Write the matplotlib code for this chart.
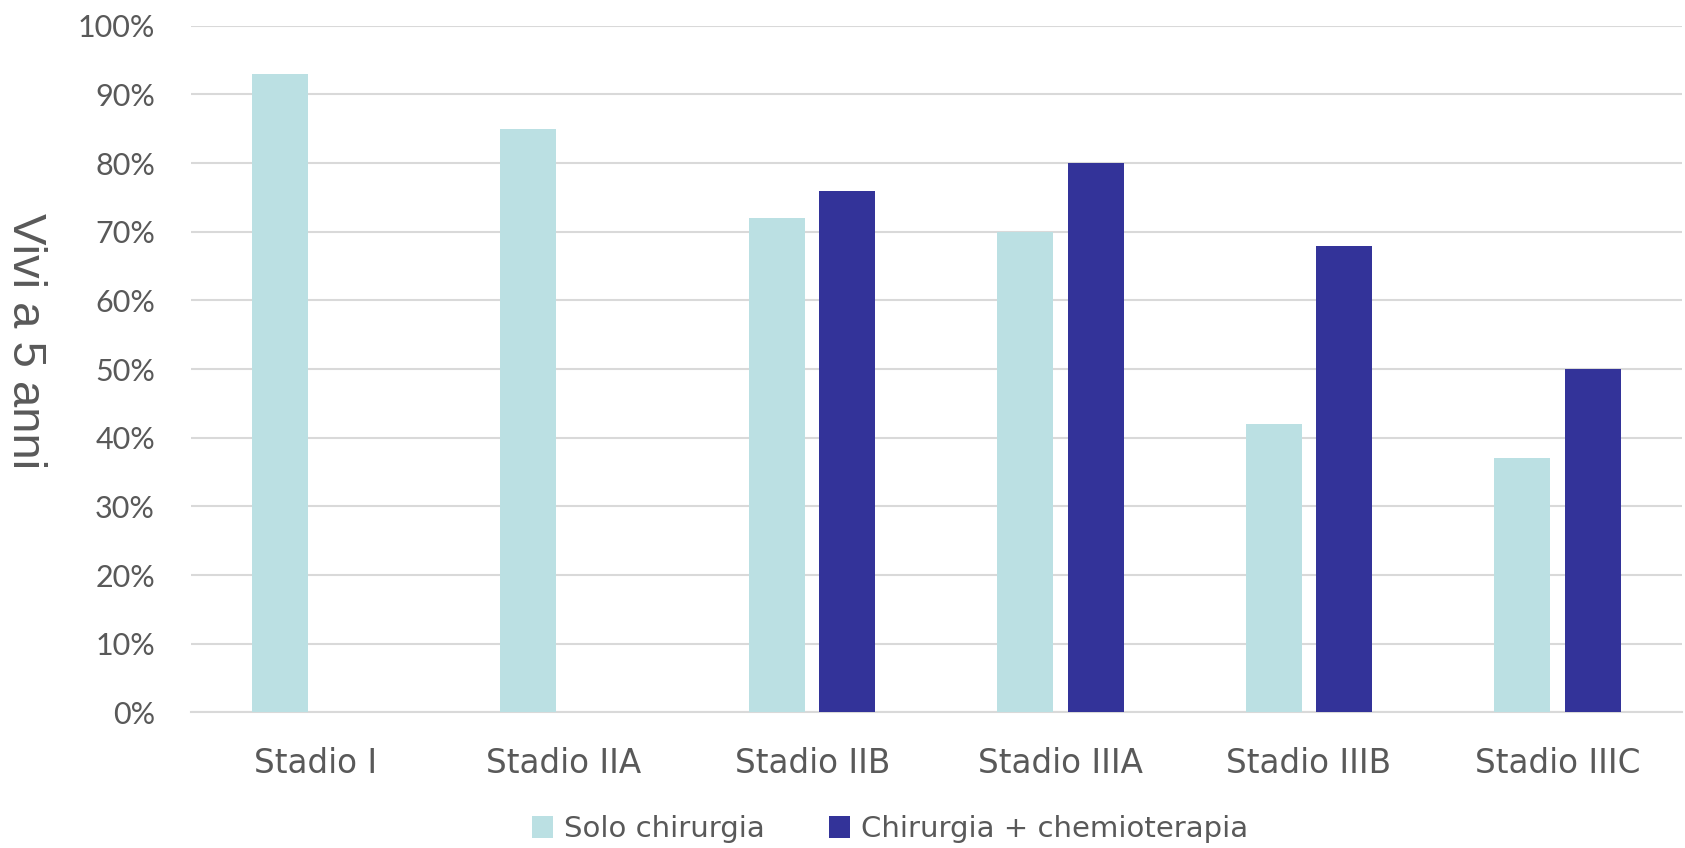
import numpy as np
import matplotlib
matplotlib.use('Agg')
import matplotlib.pyplot as plt

# Data
stages = ['Stadio I', 'Stadio IIA', 'Stadio IIB', 'Stadio IIIA', 'Stadio IIIB', 'Stadio IIIC']
solo_chirurgia = [93, 85, 72, 70, 42, 37]
chirurgia_chemio = [0, 0, 76, 80, 68, 50]
yticks = np.arange(0, 101, 10)

light = '#bbe0e3'
dark = '#333399'
text_gray = '#595959'

plt.rcParams['font.family'] = ['Lato', 'DejaVu Sans']

fig = plt.figure(figsize=(16.85, 8.48), dpi=100)
ax = fig.add_axes([0.1134, 0.1598, 0.8846, 0.8098])

x = np.arange(len(stages))
w = 0.225
off = 0.142
ax.bar(x - off, solo_chirurgia, w, color=light, label='Solo chirurgia', zorder=3)
ax.bar(x + off, chirurgia_chemio, w, color=dark, label='Chirurgia + chemioterapia', zorder=3)

ax.set_xlim(-0.5, len(stages) - 0.5)
ax.set_ylim(0, 100)
ax.set_yticks(yticks)
ax.set_yticklabels([f'{v}%' for v in yticks], fontsize=22, color=text_gray)
ax.set_xticks(x)
ax.set_xticklabels(stages, fontsize=23.5, color=text_gray, family='DejaVu Sans')
ax.tick_params(axis='y', length=0, pad=26)
ax.tick_params(axis='x', length=0, pad=25)

ax.grid(axis='y', color='#d9d9d9', linewidth=1.5, zorder=0)
for s in ['top', 'right', 'left']:
    ax.spines[s].set_visible(False)
ax.spines['bottom'].set_color('#d9d9d9')
ax.spines['bottom'].set_linewidth(1.5)

fig.text(0.002, 0.598, 'Vivi a 5 anni', rotation=270, fontsize=34,
         color=text_gray, family='Liberation Sans', ha='left', va='center')

fig.legend(loc='center', bbox_to_anchor=(0.528, 0.022), ncol=2, frameon=False,
           prop={'family': 'DejaVu Sans', 'size': 21},
           handlelength=0.75, handleheight=0.75, handletextpad=0.35,
           columnspacing=2.2, labelcolor=text_gray)

fig.savefig('out.png', dpi=100)
